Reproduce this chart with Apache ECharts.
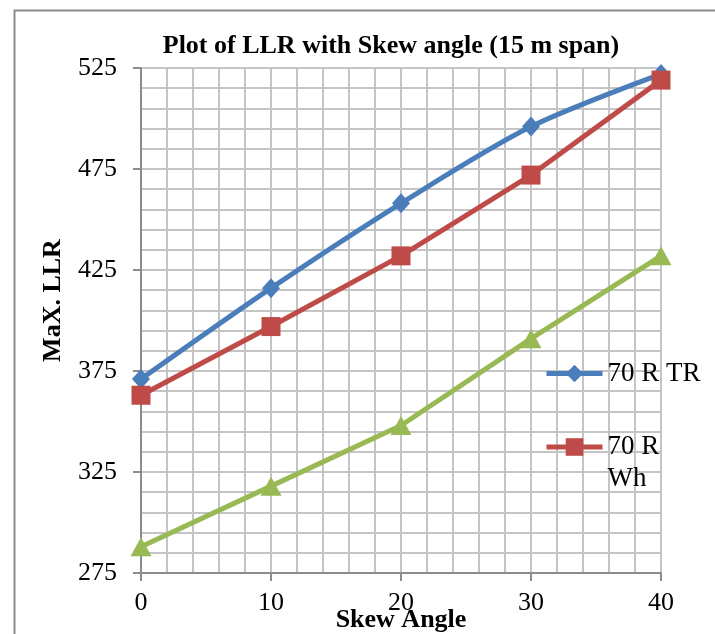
<!DOCTYPE html>
<html>
<head>
<meta charset="utf-8">
<script src="https://cdn.jsdelivr.net/npm/echarts@6/dist/echarts.min.js"></script>
<style>
  html, body { margin: 0; padding: 0; background: #fff; }
  #chart { width: 715px; height: 634px; }
</style>
</head>
<body>
<div id="chart"></div>
<script>
// skew angle (deg)
var skewAngles = [0, 10, 20, 30, 40];
// Max. LLR per vehicle class
var llr70RTR = [371, 416, 458, 496, 522];
var llr70RWh = [363, 397, 432, 472, 519];
var llrSeries3 = [288, 318, 348, 391, 432];

var FONT = '"Liberation Serif", "Times New Roman", serif';

function pairs(ys) {
    return skewAngles.map(function (x, i) { return [x, ys[i]]; });
}

var myChart = echarts.init(document.getElementById('chart'));
var option = {
    backgroundColor: '#fff',
    animation: false,
    graphic: [{
        type: 'rect',
        left: 12, top: 8,
        shape: {width: 800, height: 800},
        style: {fill: 'none', stroke: '#8c8c8c', lineWidth: 2}
    }],
    title: {
        text: 'Plot of LLR with Skew angle (15 m span)',
        left: 391,
        top: 33,
        padding: 0,
        textAlign: 'center',
        textStyle: {fontFamily: FONT, fontSize: 26, fontWeight: 'bold', color: '#000'}
    },
    legend: [
        {
            data: ['70 R TR'],
            orient: 'vertical',
            left: 544, top: 360,
            padding: 0,
            itemWidth: 56, itemHeight: 22,
            lineStyle: {width: 5},
            textStyle: {fontFamily: FONT, fontSize: 27, color: '#000'}
        },
        {
            data: ['70 R Wh'],
            // blank first line keeps "70 R" level with the icon, "Wh" wraps below
            formatter: function (name) { return '\n' + name.replace(' Wh', '\nWh'); },
            orient: 'vertical',
            left: 544, top: 399,
            padding: 0,
            itemWidth: 56, itemHeight: 22,
            lineStyle: {width: 5},
            textStyle: {fontFamily: FONT, fontSize: 27, color: '#000', lineHeight: 32}
        }
    ],
    grid: {left: 141, right: 54, top: 68, bottom: 61, outerBoundsMode: 'none', containLabel: false},
    xAxis: {
        type: 'value',
        min: 0, max: 40, interval: 10,
        name: 'Skew Angle',
        nameLocation: 'middle',
        nameGap: 34,
        nameMoveOverlap: false,
        nameTextStyle: {fontFamily: FONT, fontSize: 26, fontWeight: 'bold', color: '#000'},
        axisLine: {lineStyle: {color: '#8c8c8c', width: 2}},
        axisTick: {show: true, length: 8, lineStyle: {color: '#8c8c8c', width: 2}},
        axisLabel: {fontFamily: FONT, fontSize: 26, color: '#000', margin: 17},
        splitLine: {show: true, lineStyle: {color: '#c4c4c4', width: 2}},
        minorTick: {show: false, splitNumber: 5},
        minorSplitLine: {show: true, lineStyle: {color: '#c4c4c4', width: 2}}
    },
    yAxis: {
        type: 'value',
        min: 275, max: 525, interval: 50,
        name: 'MaX. LLR',
        nameLocation: 'middle',
        nameRotate: 90,
        nameGap: 75,
        nameMoveOverlap: false,
        nameTextStyle: {fontFamily: FONT, fontSize: 26, fontWeight: 'bold', color: '#000', padding: [0, 0, 0, 40]},
        axisLine: {show: true, lineStyle: {color: '#8c8c8c', width: 2}},
        axisTick: {show: true, length: 8, lineStyle: {color: '#8c8c8c', width: 2}},
        axisLabel: {fontFamily: FONT, fontSize: 26, color: '#000', margin: 24},
        splitLine: {show: true, lineStyle: {color: '#c4c4c4', width: 2}},
        minorTick: {show: false, splitNumber: 5},
        minorSplitLine: {show: true, lineStyle: {color: '#c4c4c4', width: 2}}
    },
    series: [
        {
            name: '70 R TR',
            type: 'line',
            data: pairs(llr70RTR),
            smooth: 0.3,
            symbol: 'diamond',
            symbolSize: [18, 20],
            color: '#4a7ebb',
            lineStyle: {width: 5, color: '#4a7ebb'},
            itemStyle: {color: '#4a7ebb'}
        },
        {
            name: '70 R Wh',
            type: 'line',
            data: pairs(llr70RWh),
            symbol: 'rect',
            symbolSize: 19,
            color: '#be4b48',
            lineStyle: {width: 5, color: '#be4b48'},
            itemStyle: {color: '#be4b48'}
        },
        {
            name: 'Series 3',
            type: 'line',
            data: pairs(llrSeries3),
            symbol: 'triangle',
            symbolSize: [21, 19],
            color: '#98b954',
            lineStyle: {width: 5, color: '#98b954'},
            itemStyle: {color: '#98b954'}
        }
    ]
};
option && myChart.setOption(option);
</script>
</body>
</html>
